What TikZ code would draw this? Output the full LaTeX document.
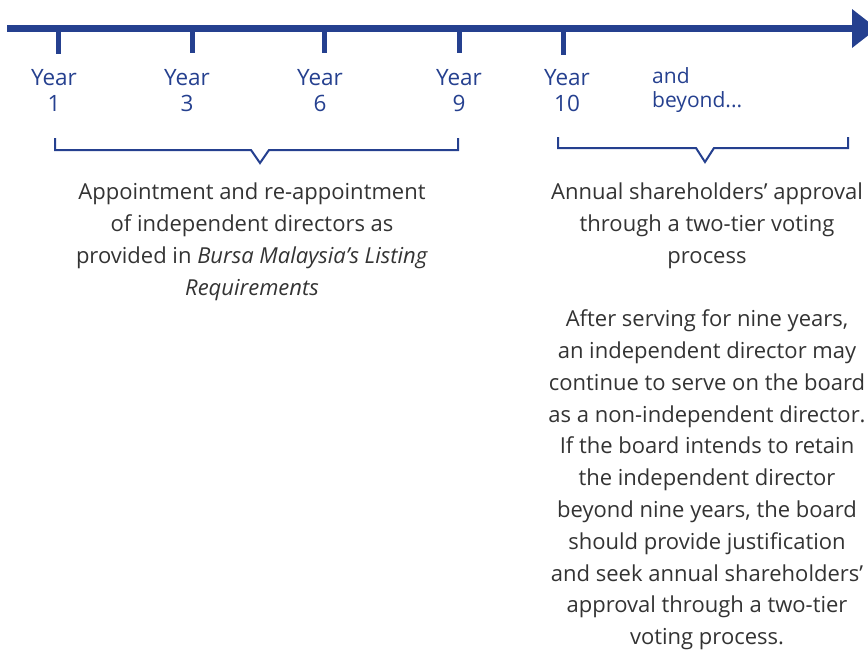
\documentclass[tikz,border=0pt]{standalone}
\usepackage{fontspec}
\setmainfont{Open Sans}
\definecolor{tlblue}{RGB}{37,64,143}
\definecolor{txtgray}{RGB}{51,51,51}
\begin{document}
\begin{tikzpicture}[x=1pt,y=-1pt,
  axis/.style={draw=tlblue,line width=7pt},
  tick/.style={draw=tlblue,line width=5pt},
  bracket/.style={draw=tlblue,line width=2pt,line join=miter},
  yearlbl/.style={text=tlblue,font=\fontsize{22.5}{26}\selectfont,align=center,inner sep=0pt,anchor=base},
  body/.style={text=txtgray,font=\fontsize{22}{31.8}\selectfont,align=center,inner sep=0pt,anchor=north}]
\useasboundingbox (0,0) rectangle (868,653);
% axis
\coordinate (a0) at (7,28.5);
\coordinate (a1) at (853,28.5);
\draw[axis] (a0) -- (a1);
\fill[tlblue] (852,9) -- (877,28.5) -- (852,48) -- cycle;
% ticks
\foreach \n/\x/\b in {t1/58/54,t3/192/53,t6/324/53,t9/459/53,t10/563/55}{
  \coordinate (\n top) at (\x,31);
  \coordinate (\n bot) at (\x,\b);
  \draw[tick] (\n top) -- (\n bot);
}
% year labels
\node[yearlbl] (y1) at (54,111) {Year\\1};
\node[yearlbl] (y3) at (187,111) {Year\\3};
\node[yearlbl] (y6) at (320,111) {Year\\6};
\node[yearlbl] (y9) at (459,111) {Year\\9};
\node[yearlbl] (y10) at (567,111) {Year\\10};
\node[yearlbl,anchor=base west,align=left,font=\fontsize{21}{24}\selectfont] (beyond) at (652,107) {and\\beyond...};
% brackets
\draw[bracket] (55,138) -- (55,150) -- (251,150) -- (260,163) -- (269,150) -- (458,150) -- (458,138);
\draw[bracket] (558,137) -- (558,148) -- (696,148) -- (705,162) -- (714,148) -- (848,148) -- (848,137);
% texts
\node[body] (left) at (252,183) {Appointment and re-appointment\\of independent directors as\\provided in \textit{Bursa Malaysia's Listing}\\\textit{Requirements}};
\node[body] (right) at (707,182.5) {Annual shareholders' approval\\through a two-tier voting\\process\\[31.8pt]After serving for nine years,\\an independent director may\\continue to serve on the board\\as a non-independent director.\\If the board intends to retain\\the independent director\\beyond nine years, the board\\should provide justification\\and seek annual shareholders'\\approval through a two-tier\\voting process.};
\end{tikzpicture}
\end{document}
